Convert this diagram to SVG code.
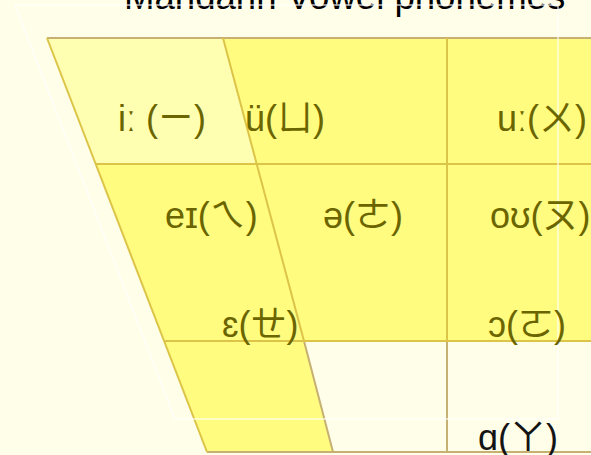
<svg xmlns="http://www.w3.org/2000/svg" width="591" height="455" viewBox="0 0 591 455">
<style>
.lbl{font-family:"Liberation Sans","Noto Sans CJK TC",sans-serif;font-size:36px;fill:#6b6500}
.dark{fill:#141414}
.grid{stroke:#dcc448;stroke-width:2;fill:none}
.tan{stroke:#c6b072;stroke-width:2;fill:none}
.yel{fill:#fffc80}
.lite{fill:#ffffb2}
</style>
<rect width="591" height="455" fill="#fffee9"/>
<text x="124" y="9" style="font-family:'Liberation Sans',sans-serif;font-size:36.6px;fill:#000">Mandarin Vowel phonemes</text>
<g id="cells">
<polygon id="cell-i" class="lite" points="47,38 223,38 257,164 96,164"/>
<polygon id="cell-u-row1" class="yel" points="223,38 591,38 591,164 257,164"/>
<polygon id="row2" class="yel" points="96,164 591,164 591,341 164,341"/>
<polygon id="cell-low" class="yel" points="164,341 304,341 333,452 207,452"/>
</g>
<g id="connectors">
<line class="tan" x1="47" y1="38" x2="591" y2="38"/>
<line class="tan" x1="207" y1="452" x2="591" y2="452"/>
<line class="tan" x1="304" y1="341" x2="333" y2="452"/>
<line class="tan" x1="447" y1="341" x2="447" y2="452"/>
<line class="grid" x1="47" y1="38" x2="207" y2="452"/>
<line class="grid" x1="223" y1="38" x2="304" y2="341"/>
<line class="grid" x1="447" y1="38" x2="447" y2="341"/>
<line class="grid" x1="96" y1="164" x2="591" y2="164"/>
<line class="grid" x1="164" y1="341" x2="591" y2="341"/>
</g>
<polygon points="15,5 558,5 558,419 175,419" fill="none" stroke="#ffffff" stroke-width="1.5" stroke-opacity="0.75"/>
<g id="labels">
<g id="n-i"><text class="lbl" x="118" y="131">iː (ㄧ)</text></g>
<g id="n-yu"><text class="lbl" x="245" y="131">ü(ㄩ)</text></g>
<g id="n-u"><text class="lbl" x="497" y="131">uː(ㄨ)</text></g>
<g id="n-ei"><text class="lbl" x="165" y="228">eɪ(ㄟ)</text></g>
<g id="n-e"><text class="lbl" x="323" y="228">ə(ㄜ)</text></g>
<g id="n-ou"><text class="lbl" x="490" y="228">oʊ(ㄡ)</text></g>
<g id="n-eh"><text class="lbl" x="222" y="337">ɛ(ㄝ)</text></g>
<g id="n-o"><text class="lbl" x="488" y="337">ɔ(ㄛ)</text></g>
<g id="n-a"><text class="lbl dark" x="478" y="450">ɑ(ㄚ)</text></g>
</g>
</svg>
